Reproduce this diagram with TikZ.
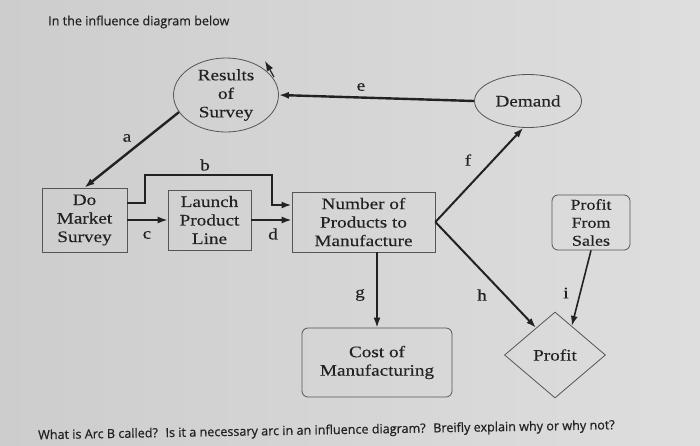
\documentclass[tikz,border=0pt]{standalone}
\usepackage{fontspec}
\setmainfont{Liberation Serif}
\newfontfamily\diagfont[FakeStretch=1.2,FakeBold=0.3]{Liberation Serif}
\newfontfamily\notefont[FakeBold=0.6]{Open Sans}
\usetikzlibrary{arrows.meta,shapes.geometric}
\definecolor{ink}{HTML}{222222}
\definecolor{edge}{HTML}{555555}
\definecolor{paper}{HTML}{CDCDCD}
\definecolor{paperlight}{HTML}{DEDEDE}

\begin{document}
\begin{tikzpicture}[x=1pt,y=-1pt]
    \tikzset{
      box/.style={draw=edge,line width=0.8pt,inner sep=0pt,align=center,font=\diagfont\fontsize{16}{18.5}\selectfont,text=ink},
      chance/.style={box,ellipse,inner ysep=-10pt},
      rbox/.style={box,rounded corners=6pt},
      value/.style={box,diamond,aspect=1.17},
      lbl/.style={font=\diagfont\fontsize{16}{18}\selectfont,text=ink,inner sep=0pt},
      arc/.style={-{Latex[length=10pt,width=7pt]},draw=ink,line width=1.6pt},
      heavy/.style={arc,line width=2.4pt},
      note/.style={font=\notefont\fontsize{12.6}{14}\selectfont,text=ink,anchor=west,inner sep=0pt}
    }
    \shade[left color=paper,right color=paperlight] (0,0) rectangle (700,445);
    \useasboundingbox (0,0) rectangle (700,445);
    \node[note] (title) at (48,22) {In the influence diagram below};
    \node[chance,minimum width=105pt,minimum height=74pt] (res) at (226,95) {Results\\of\\Survey};
    \node[chance,minimum width=107pt,minimum height=53pt] (dem) at (528,101) {Demand};
    \node[box,minimum width=85pt,minimum height=64pt] (survey) at (84.5,220) {Do\\Market\\Survey};
    \node[box,minimum width=83pt,minimum height=60pt] (launch) at (209.5,220) {Launch\\Product\\Line};
    \node[box,minimum width=143pt,minimum height=60pt] (num) at (363.5,222) {Number of\\Products to\\Manufacture};
    \node[rbox,minimum width=78pt,minimum height=55pt,font=\diagfont\fontsize{15}{18}\selectfont] (pfs) at (591,222.5) {Profit\\From\\Sales};
    \node[rbox,minimum width=150pt,minimum height=69pt] (cost) at (377,362.5) {Cost of\\Manufacturing};
    \node[value,minimum width=101pt,minimum height=86pt] (prof) at (555,355) {Profit};
    \coordinate (bl) at (145,175);
    \coordinate (br) at (272,175);
    \coordinate (ptrtail) at (274,77);
    \coordinate (ptrtip) at (265,61);
    % arcs
    \draw[heavy] (res.200) -- (survey.north);
    \draw[heavy] (dem.west) -- (res.east);
    \draw[heavy] ([yshift=17pt]survey.east) -| (bl) -- (br) |- ([yshift=17pt]num.west);
    \draw[arc] (survey.east) -- (launch.west);
    \draw[arc] (launch.east) -- (launch.east -| num.west);
    \draw[arc,line width=2pt] (num.east) -- (dem.260);
    \draw[arc,line width=2pt] (num.east) -- (prof.125);
    \draw[arc] (cost.north |- num.south) -- (cost.north);
    \draw[arc] (pfs.south) -- (prof.60);
    \draw[arc,line width=1.2pt] (ptrtail) -- (ptrtip);
    % arc labels
    \node[lbl] (la) at (127,138) {a};
    \node[lbl] (lb) at (205,165) {b};
    \node[lbl] (lc) at (147,235) {c};
    \node[lbl] (ld) at (273,234) {d};
    \node[lbl] (le) at (361,87) {e};
    \node[lbl] (lf) at (468,160) {f};
    \node[lbl] (lg) at (360,295) {g};
    \node[lbl] (lh) at (482,295) {h};
    \node[lbl] (li) at (566,293) {i};
    \node[note,rotate=1] (question) at (38,436) {What is Arc B called?~ Is it a necessary arc in an influence diagram?~ Breifly explain why or why not?};
\end{tikzpicture}
\end{document}
